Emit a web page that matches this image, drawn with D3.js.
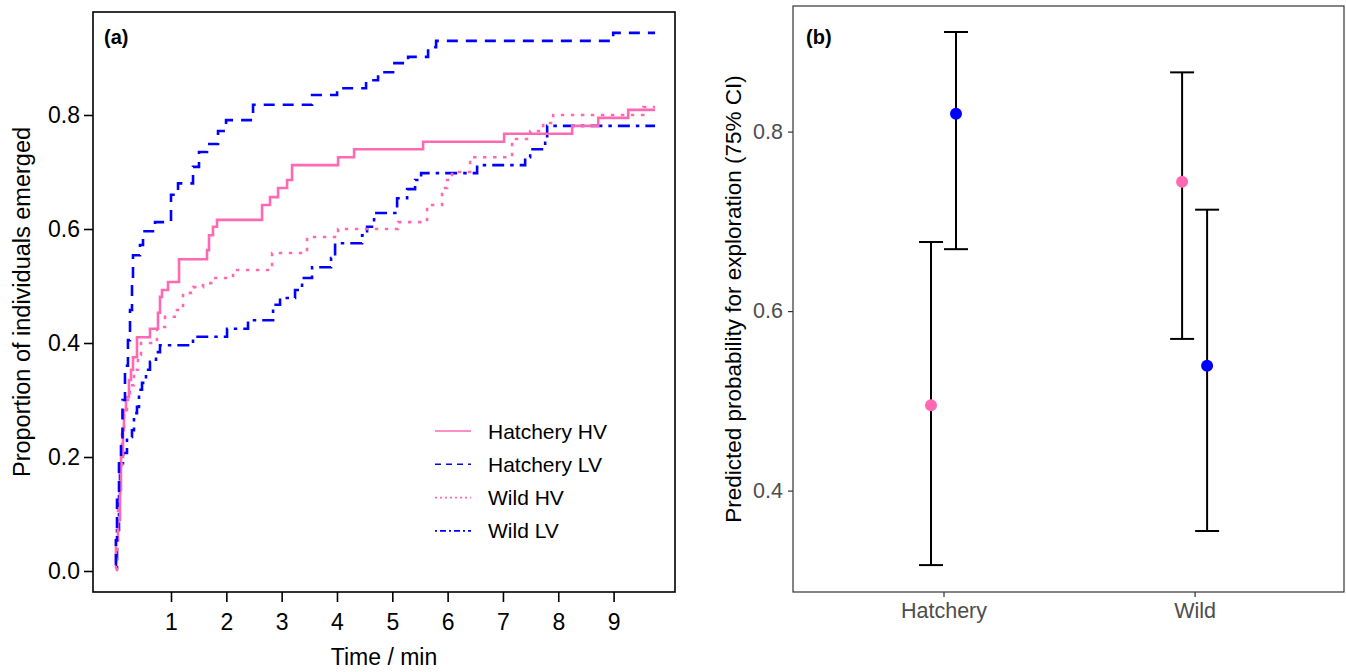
<!DOCTYPE html>
<html>
<head>
<meta charset="utf-8">
<script src="https://cdn.jsdelivr.net/npm/d3@7"></script>
<style>
  body { margin: 0; background: #fff; }
  svg { font-family: "Liberation Sans", Arial, sans-serif; }
</style>
</head>
<body>
<svg id="chart" width="1346" height="672"></svg>
<script>
// ---- panel (a): emergence curves (time in min, cumulative proportion) ----
var hatcheryHvTime = [0, 0.005, 0.042, 0.078, 0.096, 0.132, 0.15, 0.186, 0.24, 0.277, 0.313, 0.385, 0.62, 0.765, 0.801, 0.837, 0.946, 1.145, 1.651, 1.687, 1.759, 1.832, 2.646, 2.79, 2.935, 3.098, 3.188, 4.02, 4.309, 5.557, 7.021, 8.251, 8.722, 9.264, 9.75];
var hatcheryHvProp = [0.005, 0.054, 0.089, 0.142, 0.2, 0.247, 0.282, 0.305, 0.335, 0.353, 0.375, 0.41, 0.425, 0.453, 0.481, 0.493, 0.507, 0.547, 0.563, 0.589, 0.604, 0.616, 0.642, 0.656, 0.672, 0.686, 0.712, 0.726, 0.74, 0.753, 0.767, 0.781, 0.795, 0.809, 0.809];

var hatcheryLvTime = [0, 0.005, 0.024, 0.06, 0.096, 0.123, 0.168, 0.222, 0.259, 0.295, 0.313, 0.439, 0.494, 0.711, 1.0, 1.127, 1.398, 1.506, 1.651, 1.85, 1.995, 2.483, 3.55, 4.002, 4.526, 4.743, 5.014, 5.286, 5.647, 5.792, 8.993, 9.75];
var hatcheryLvProp = [0.011, 0.054, 0.125, 0.195, 0.23, 0.3, 0.36, 0.405, 0.458, 0.51, 0.554, 0.572, 0.596, 0.612, 0.66, 0.68, 0.709, 0.735, 0.749, 0.772, 0.791, 0.818, 0.835, 0.847, 0.861, 0.875, 0.891, 0.902, 0.919, 0.93, 0.944, 0.944];

var wildHvTime = [0, 0.024, 0.042, 0.078, 0.114, 0.15, 0.204, 0.259, 0.331, 0.403, 0.457, 0.747, 0.892, 1.108, 1.217, 1.398, 1.579, 1.759, 2.121, 2.827, 3.459, 4.02, 5.105, 5.629, 5.9, 5.991, 6.081, 6.407, 7.166, 7.492, 7.727, 7.908, 9.535, 9.75];
var wildHvProp = [0.002, 0.054, 0.125, 0.177, 0.247, 0.277, 0.3, 0.326, 0.353, 0.379, 0.4, 0.428, 0.446, 0.458, 0.488, 0.498, 0.505, 0.514, 0.528, 0.558, 0.586, 0.6, 0.612, 0.642, 0.672, 0.686, 0.7, 0.726, 0.758, 0.772, 0.786, 0.8, 0.814, 0.814];

var wildLvTime = [0, 0.024, 0.06, 0.078, 0.132, 0.204, 0.295, 0.331, 0.385, 0.421, 0.476, 0.548, 0.62, 0.729, 0.801, 1.398, 2.013, 2.392, 2.845, 2.971, 3.242, 3.369, 3.55, 3.893, 3.966, 4.454, 4.544, 4.671, 5.087, 5.268, 5.412, 5.521, 6.533, 7.401, 7.492, 7.763, 7.799, 9.75];
var wildLvProp = [0.005, 0.072, 0.142, 0.189, 0.207, 0.235, 0.247, 0.277, 0.288, 0.318, 0.33, 0.353, 0.367, 0.384, 0.396, 0.411, 0.425, 0.44, 0.467, 0.479, 0.493, 0.514, 0.533, 0.549, 0.575, 0.589, 0.604, 0.628, 0.654, 0.67, 0.686, 0.698, 0.712, 0.726, 0.74, 0.76, 0.781, 0.781];

var seriesNames = ["Hatchery HV", "Hatchery LV", "Wild HV", "Wild LV"];
var timeTicks = [1, 2, 3, 4, 5, 6, 7, 8, 9];
var propTicks = [0, 0.2, 0.4, 0.6, 0.8];

// ---- panel (b): predicted probability with 75% CI ----
var origins = ["Hatchery", "Wild"];
var hvEst = [0.495, 0.744], hvLow = [0.317, 0.569], hvHigh = [0.677, 0.866];
var lvEst = [0.820, 0.539], lvLow = [0.669, 0.355], lvHigh = [0.911, 0.713];
var probTicks = [0.4, 0.6, 0.8];

var pink = "#ff69b4", blue = "#0000ff";
var svg = d3.select("#chart");

// ================= panel (a) =================
var boxA = { left: 93, top: 12, right: 675, bottom: 592 };
var xA = d3.scaleLinear().domain([-0.41, 10.11]).range([boxA.left, boxA.right]);
var yA = d3.scaleLinear().domain([0, 0.8]).range([571, 115]);

var styles = [
  { color: pink, dash: null, legendDash: null },
  { color: blue, dash: "11,8", legendDash: "6,5" },
  { color: pink, dash: "3.5,6.5", legendDash: "2,3" },
  { color: blue, dash: "3.5,6,12,6", legendDash: "2,3,6,3" }
];

function zip(t, p) { return t.map(function (d, i) { return { t: d, p: p[i] }; }); }
var seriesA = [
  zip(hatcheryHvTime, hatcheryHvProp),
  zip(hatcheryLvTime, hatcheryLvProp),
  zip(wildHvTime, wildHvProp),
  zip(wildLvTime, wildLvProp)
];

var stepLine = d3.line()
  .curve(d3.curveStepAfter)
  .x(function (d) { return xA(d.t); })
  .y(function (d) { return yA(d.p); });

var gA = svg.append("g");
// draw back to front so the pink solid sits under the blue lines like the original
[3, 2, 0, 1].forEach(function (i) {
  gA.append("path")
    .datum(seriesA[i])
    .attr("d", stepLine)
    .attr("fill", "none")
    .attr("stroke", styles[i].color)
    .attr("stroke-width", 2.6)
    .attr("stroke-dasharray", styles[i].dash);
});

gA.append("rect")
  .attr("x", boxA.left).attr("y", boxA.top)
  .attr("width", boxA.right - boxA.left).attr("height", boxA.bottom - boxA.top)
  .attr("fill", "none").attr("stroke", "#000").attr("stroke-width", 1.6);

// x axis: ticks hang below the box
var xAxisA = gA.append("g")
  .attr("transform", "translate(0," + boxA.bottom + ")")
  .call(d3.axisBottom(xA).tickValues(timeTicks).tickFormat(d3.format("d")).tickSize(10).tickPadding(12));
xAxisA.select(".domain").remove();
xAxisA.selectAll("line").attr("stroke", "#000").attr("stroke-width", 1.6);
xAxisA.selectAll("text").attr("font-size", 23).attr("fill", "#000").attr("font-family", null);

var yAxisA = gA.append("g")
  .attr("transform", "translate(" + boxA.left + ",0)")
  .call(d3.axisLeft(yA).tickValues(propTicks).tickFormat(d3.format(".1f")).tickSize(9).tickPadding(4));
yAxisA.select(".domain").remove();
yAxisA.selectAll("line").attr("stroke", "#000").attr("stroke-width", 1.6);
yAxisA.selectAll("text").attr("font-size", 23).attr("fill", "#000").attr("font-family", null);

gA.append("text")
  .attr("x", (boxA.left + boxA.right) / 2).attr("y", 665)
  .attr("text-anchor", "middle").attr("font-size", 23)
  .text("Time / min");
gA.append("text")
  .attr("transform", "translate(30," + (boxA.top + boxA.bottom) / 2 + ") rotate(-90)")
  .attr("text-anchor", "middle").attr("font-size", 23.5)
  .text("Proportion of individuals emerged");
gA.append("text")
  .attr("x", 104).attr("y", 44)
  .attr("font-size", 20).attr("font-weight", "bold")
  .text("(a)");

// legend
var legA = gA.append("g").attr("transform", "translate(435,431)");
seriesNames.forEach(function (name, i) {
  var row = legA.append("g").attr("transform", "translate(0," + i * 33.3 + ")");
  row.append("line")
    .attr("x1", 0).attr("x2", 36).attr("y1", 0).attr("y2", 0)
    .attr("stroke", styles[i].color).attr("stroke-width", 1.6)
    .attr("stroke-dasharray", styles[i].legendDash);
  row.append("text")
    .attr("x", 53).attr("y", 0).attr("dy", "0.36em")
    .attr("font-size", 21)
    .text(name);
});

// ================= panel (b) =================
var boxB = { left: 793, top: 6, right: 1344, bottom: 592 };
var xB = d3.scalePoint().domain(origins).range([943.5, 1194.6]);
var yB = d3.scaleLinear().domain([0.4, 0.8]).range([490.6, 131.6]);
var dodge = 12.5, capHalf = 12;

var gB = svg.append("g");
gB.append("rect")
  .attr("x", boxB.left).attr("y", boxB.top)
  .attr("width", boxB.right - boxB.left).attr("height", boxB.bottom - boxB.top)
  .attr("fill", "none").attr("stroke", "#333").attr("stroke-width", 1.2);

var xAxisB = gB.append("g")
  .attr("transform", "translate(0," + boxB.bottom + ")")
  .call(d3.axisBottom(xB).tickSize(5).tickPadding(6));
xAxisB.select(".domain").remove();
xAxisB.selectAll("line").attr("stroke", "#333").attr("stroke-width", 1.2);
xAxisB.selectAll("text").attr("font-size", 21.5).attr("fill", "#4d4d4d").attr("font-family", null);

var yAxisB = gB.append("g")
  .attr("transform", "translate(" + boxB.left + ",0)")
  .call(d3.axisLeft(yB).tickValues(probTicks).tickFormat(d3.format(".1f")).tickSize(5).tickPadding(5));
yAxisB.select(".domain").remove();
yAxisB.selectAll("line").attr("stroke", "#333").attr("stroke-width", 1.2);
yAxisB.selectAll("text").attr("font-size", 21.5).attr("fill", "#4d4d4d").attr("font-family", null);

gB.append("text")
  .attr("transform", "translate(741," + (boxB.top + boxB.bottom) / 2 + ") rotate(-90)")
  .attr("text-anchor", "middle").attr("font-size", 22.5)
  .text("Predicted probability for exploration (75% CI)");
gB.append("text")
  .attr("x", 806).attr("y", 44)
  .attr("font-size", 20).attr("font-weight", "bold")
  .text("(b)");

var pointsB = [];
origins.forEach(function (o, i) {
  pointsB.push({ origin: o, off: -dodge, est: hvEst[i], lo: hvLow[i], hi: hvHigh[i], color: pink });
  pointsB.push({ origin: o, off: dodge, est: lvEst[i], lo: lvLow[i], hi: lvHigh[i], color: blue });
});

var bars = gB.selectAll(".err").data(pointsB).enter().append("g").attr("class", "err")
  .attr("transform", function (d) { return "translate(" + (xB(d.origin) + d.off) + ",0)"; });
bars.append("line")
  .attr("y1", function (d) { return yB(d.lo); }).attr("y2", function (d) { return yB(d.hi); })
  .attr("stroke", "#000").attr("stroke-width", 2);
bars.append("line")
  .attr("x1", -capHalf).attr("x2", capHalf)
  .attr("y1", function (d) { return yB(d.hi); }).attr("y2", function (d) { return yB(d.hi); })
  .attr("stroke", "#000").attr("stroke-width", 2);
bars.append("line")
  .attr("x1", -capHalf).attr("x2", capHalf)
  .attr("y1", function (d) { return yB(d.lo); }).attr("y2", function (d) { return yB(d.lo); })
  .attr("stroke", "#000").attr("stroke-width", 2);
bars.append("circle")
  .attr("cy", function (d) { return yB(d.est); })
  .attr("r", 6)
  .attr("fill", function (d) { return d.color; });
</script>
</body>
</html>
